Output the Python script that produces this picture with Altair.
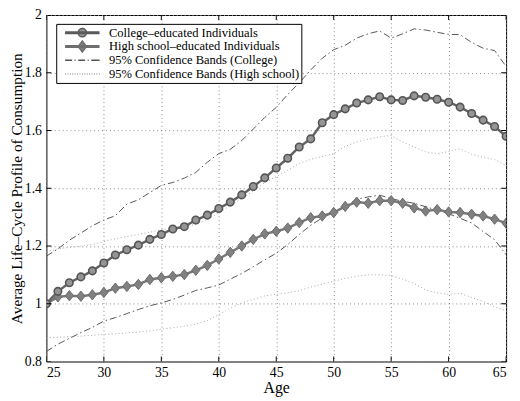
import altair as alt
import pandas as pd

# ---------------- data ----------------
AGES = list(range(25, 66))

COLLEGE = [1.000, 1.043, 1.073, 1.093, 1.114, 1.141, 1.169, 1.187, 1.203, 1.223,
           1.240, 1.259, 1.267, 1.290, 1.307, 1.330, 1.352, 1.377, 1.406, 1.436,
           1.470, 1.504, 1.543, 1.571, 1.627, 1.655, 1.675, 1.695, 1.706, 1.717,
           1.706, 1.704, 1.720, 1.715, 1.708, 1.698, 1.681, 1.659, 1.636, 1.614,
           1.580]

HIGH_SCHOOL = [1.000, 1.024, 1.028, 1.026, 1.031, 1.039, 1.054, 1.060, 1.067, 1.084,
               1.090, 1.095, 1.101, 1.116, 1.133, 1.155, 1.178, 1.200, 1.223, 1.242,
               1.251, 1.262, 1.281, 1.298, 1.304, 1.316, 1.337, 1.352, 1.348, 1.357,
               1.357, 1.348, 1.332, 1.321, 1.326, 1.318, 1.316, 1.310, 1.304, 1.293,
               1.279]

COLLEGE_UPPER = [1.165, 1.190, 1.220, 1.245, 1.270, 1.290, 1.305, 1.345, 1.360, 1.385,
                 1.410, 1.420, 1.435, 1.455, 1.490, 1.520, 1.535, 1.565, 1.605, 1.645,
                 1.680, 1.725, 1.765, 1.810, 1.850, 1.880, 1.895, 1.920, 1.935, 1.945,
                 1.920, 1.935, 1.952, 1.948, 1.940, 1.933, 1.932, 1.905, 1.885, 1.877,
                 1.822]

COLLEGE_LOWER = [0.835, 0.860, 0.880, 0.900, 0.918, 0.940, 0.952, 0.966, 0.980, 0.993,
                 1.003, 1.015, 1.030, 1.046, 1.055, 1.065, 1.085, 1.105, 1.128, 1.152,
                 1.175, 1.205, 1.240, 1.272, 1.297, 1.318, 1.337, 1.362, 1.370, 1.376,
                 1.364, 1.355, 1.348, 1.336, 1.324, 1.312, 1.296, 1.280, 1.250, 1.222,
                 1.170]

HS_UPPER = [1.180, 1.190, 1.195, 1.200, 1.205, 1.215, 1.225, 1.233, 1.240, 1.248,
            1.256, 1.262, 1.267, 1.275, 1.292, 1.315, 1.340, 1.365, 1.390, 1.420,
            1.440, 1.462, 1.486, 1.500, 1.510, 1.520, 1.545, 1.560, 1.570, 1.578,
            1.583, 1.560, 1.543, 1.526, 1.520, 1.527, 1.537, 1.517, 1.508, 1.500,
            1.478]

HS_LOWER = [0.882, 0.884, 0.886, 0.888, 0.891, 0.894, 0.896, 0.899, 0.902, 0.906,
            0.912, 0.917, 0.922, 0.930, 0.942, 0.962, 0.985, 1.003, 1.015, 1.027,
            1.033, 1.038, 1.045, 1.058, 1.068, 1.078, 1.088, 1.095, 1.100, 1.100,
            1.098, 1.085, 1.070, 1.048, 1.038, 1.032, 1.036, 1.022, 1.008, 0.990,
            0.975]

XTICKS = [25, 30, 35, 40, 45, 50, 55, 60, 65]
YTICKS = [0.8, 1.0, 1.2, 1.4, 1.6, 1.8, 2.0]

SERIES = ["College–educated Individuals",
          "High school–educated Individuals",
          "95% Confidence Bands (College)",
          "95% Confidence Bands (High school)"]

X_TITLE = "Age"
Y_TITLE = "Average Life–Cycle Profile of Consumption"

FONT = "Liberation Serif"

# ---------------- tables ----------------
rows = []
for key, vals in [("col", COLLEGE), ("hs", HIGH_SCHOOL),
                  ("col_up", COLLEGE_UPPER), ("col_lo", COLLEGE_LOWER),
                  ("hs_up", HS_UPPER), ("hs_lo", HS_LOWER)]:
    for a, v in zip(AGES, vals):
        rows.append({"age": a, "value": v, "key": key})
df = pd.DataFrame(rows)

xt_bottom = pd.DataFrame({"age": XTICKS, "value": [YTICKS[0]] * len(XTICKS)})
xt_top = pd.DataFrame({"age": XTICKS, "value": [YTICKS[-1]] * len(XTICKS)})
yt_left = pd.DataFrame({"age": [XTICKS[0]] * len(YTICKS), "value": YTICKS})
yt_right = pd.DataFrame({"age": [XTICKS[-1]] * len(YTICKS), "value": YTICKS})

# legend helper rows (placed outside the x-domain and clipped away)
leg_df = pd.DataFrame({"series": SERIES,
                       "age": [XTICKS[-1] + 50] * len(SERIES),
                       "value": [YTICKS[0]] * len(SERIES)})

# ---------------- scales / axes ----------------
xscale = alt.Scale(domain=[XTICKS[0], XTICKS[-1]], nice=False, zero=False)
yscale = alt.Scale(domain=[YTICKS[0], YTICKS[-1]], nice=False, zero=False)

common_axis = dict(grid=True, gridColor="#8a8a8a", gridDash=[1, 3], gridWidth=1,
                   ticks=False, domain=False,
                   labelFont=FONT, labelFontSize=14, labelColor="black",
                   titleFont=FONT, titleFontWeight="normal",
                   titleColor="black")

xaxis = alt.Axis(title=X_TITLE, values=XTICKS, format="d", labelPadding=4,
                 titlePadding=0, titleFontSize=16, **common_axis)
yaxis = alt.Axis(title=Y_TITLE, values=YTICKS, format="~g", labelPadding=5,
                 titlePadding=0, titleFontSize=15.5, **common_axis)


def enc(chart):
    return chart.encode(
        x=alt.X("age:Q", scale=xscale, axis=xaxis),
        y=alt.Y("value:Q", scale=yscale, axis=yaxis),
    )


def lines(keys, **mark):
    return enc(
        alt.Chart(df)
        .transform_filter(alt.FieldOneOfPredicate(field="key", oneOf=keys))
        .mark_line(clip=True, **mark)
    ).encode(detail="key:N")


band_col = lines(["col_up", "col_lo"], color="#555555", strokeWidth=1,
                 strokeDash=[7, 3, 1.5, 3])
band_hs = lines(["hs_up", "hs_lo"], color="#a8a8a8", strokeWidth=1,
                strokeDash=[1, 2.5])
line_hs = lines(["hs"], color="#777777", strokeWidth=2.5)
line_col = lines(["col"], color="#636363", strokeWidth=2.5)

DIAMOND = "M0,-1L0.8,0L0,1L-0.8,0Z"

pts_hs = enc(
    alt.Chart(df).transform_filter(alt.datum.key == "hs")
    .mark_point(shape=DIAMOND, size=110, filled=True, fill="#808080",
                stroke="#6a6a6a", strokeWidth=1, opacity=1, clip=True)
)
pts_col = enc(
    alt.Chart(df).transform_filter(alt.datum.key == "col")
    .mark_point(shape="circle", size=58, filled=True, fill="#959595",
                stroke="#555555", strokeWidth=1.6, opacity=1, clip=True)
)


def ticks(data, orient):
    return enc(alt.Chart(data).mark_tick(orient=orient, size=10, thickness=1,
                                         color="black", opacity=1, clip=True))


tick_layers = [ticks(xt_bottom, "vertical"), ticks(xt_top, "vertical"),
               ticks(yt_left, "horizontal"), ticks(yt_right, "horizontal")]

# ---------------- legend symbols (style paths) ----------------
thick = "".join(f"M-1,{dy}H1" for dy in (-0.04, 0, 0.04))
circle_sym = thick + "M-0.24,0A0.24,0.24,0,1,0,0.24,0A0.24,0.24,0,1,0,-0.24,0Z"
diamond_sym = thick + "M0,-0.32L0.24,0L0,0.32L-0.24,0Z"
dashdot_sym = "M-1,0H-0.6M-0.45,0H-0.39M-0.24,0H0.16M0.31,0H0.37M0.52,0H1"
dotted_sym = "".join(f"M{-1 + 0.14 * i:.3f},0H{-1 + 0.14 * i + 0.05:.3f}" for i in range(15))

LEG = alt.Legend(title=None, orient="none", legendX=10, legendY=9,
                 direction="vertical", clipHeight=14, rowPadding=0, padding=2,
                 symbolOffset=6, labelOffset=8.5, symbolSize=1225,
                 labelFont=FONT, labelFontSize=12.7, labelColor="black",
                 labelLimit=400, strokeColor="black", fillColor="white")

legend_layer = alt.Chart(leg_df).mark_point(size=1225, strokeWidth=1.2, opacity=1,
                                            clip=True).encode(
    x=alt.X("age:Q", scale=xscale, axis=xaxis),
    y=alt.Y("value:Q", scale=yscale, axis=yaxis),
    shape=alt.Shape("series:N", legend=LEG,
                    scale=alt.Scale(domain=SERIES,
                                    range=[circle_sym, diamond_sym, dashdot_sym, dotted_sym])),
    stroke=alt.Stroke("series:N", legend=LEG,
                      scale=alt.Scale(domain=SERIES,
                                      range=["#5a5a5a", "#6e6e6e", "#555555", "#9a9a9a"])),
    fill=alt.Fill("series:N", legend=LEG,
                  scale=alt.Scale(domain=SERIES,
                                  range=["#959595", "#808080", "transparent", "transparent"])),
)

chart = alt.layer(
    band_col, band_hs, line_hs, line_col, pts_hs, pts_col, *tick_layers, legend_layer
).properties(
    width=467, height=352,
    autosize=alt.AutoSizeParams(type="none"),
    padding={"left": 39, "top": 4, "right": 6, "bottom": 37},
    background="white",
).configure_view(stroke="black", strokeWidth=1)

chart.save("out.html", embed_options={"renderer": "svg", "actions": False})
